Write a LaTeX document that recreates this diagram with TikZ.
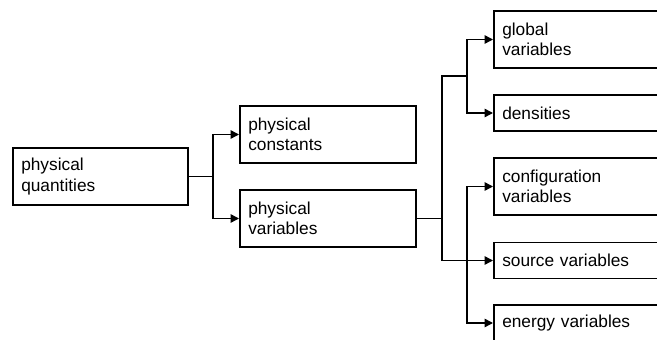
\documentclass[tikz,border=0pt]{standalone}
\usepackage{fontspec}
\setmainfont{Liberation Sans}
\usepackage{tikz}
\usetikzlibrary{arrows.meta}
\tikzset{
	qbox/.style={draw,line width=1.5pt,text width=159pt,inner xsep=8.5pt,inner ysep=0pt,
		align=left,anchor=west,font=\fontsize{17.3}{20.3}\selectfont},
	twoline/.style={qbox,minimum height=57pt},
	oneline/.style={qbox,minimum height=36pt},
	link/.style={line width=1.5pt},
	arr/.style={link,-{Triangle[length=8.5pt,width=8.5pt]}}
}

\begin{document}
\begin{tikzpicture}[x=1pt,y=-1pt]
			\useasboundingbox (0,0) rectangle (657,340);
			\clip (0,0) rectangle (657,340);
			
			% left and middle column
			\node[twoline,text width=158pt] (pq) at (12,176.5) {physical\\quantities};
			\node[twoline] (pc) at (239,134.5) {physical\\constants};
			\node[twoline] (pv) at (239,218.5) {physical\\variables};
			
			% right column
			\node[twoline] (gv) at (493,39.5) {global\\variables};
			\node[oneline] (dn) at (493,113) {densities};
			\node[twoline] (cv) at (493,186.5) {configuration\\variables};
			\node[oneline] (sv) at (493,260.5) {source variables};
			\node[oneline] (ev) at (493,323) {energy variables};
			
			\coordinate (j1) at (213,176.5);
			\coordinate (j2) at (442,218.5);
			\coordinate (j3) at (467,76);
			\coordinate (j4) at (j3 |- sv.west);
			
			\draw[link] (pq) -- (j1);
			\draw[arr] (j1) |- (pc);
			\draw[arr] (j1) |- (pv);
			
			\draw[link] (pv) -- (j2);
			\draw[link] (j2) |- (j3);
			\draw[arr] (j2) |- (sv);
			\draw[arr] (j3) |- (gv);
			\draw[arr] (j3) |- (dn);
			\draw[arr] (j4) |- (cv);
			\draw[arr] (j4) |- (ev);
		\end{tikzpicture}
\end{document}
